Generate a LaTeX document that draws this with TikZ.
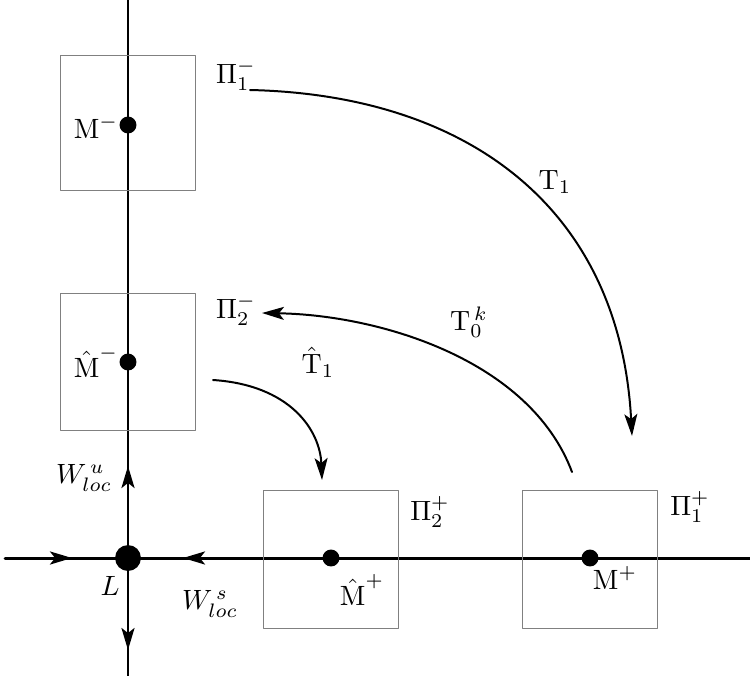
\documentclass[tikz,border=0pt]{standalone}
\usepackage{amsmath}
\usepackage{amssymb}
\usetikzlibrary{arrows.meta}
\begin{document}
\begin{tikzpicture}[line cap=round,line join=round,>={Stealth[length=22pt,width=13pt,inset=5pt]},x=1bp,y=-1bp,
  dot/.style={circle,fill=black,inner sep=0pt,minimum size=#1},
  box/.style={draw=gray,line width=0.9pt},
  lbl/.style={scale=2.8,inner sep=0pt}]
\useasboundingbox (0,0) rectangle (750,676);

% axes
\draw[line width=3pt] (128,0)-- (128,676);
\draw[line width=3pt] (5,558)-- (750,558);
\draw[->,line width=3pt] (35,558)-- (72,558);
\draw[->,line width=3pt] (220,558)-- (183,558);
\draw[->,line width=3pt] (128,500)-- (128,466);
\draw[->,line width=3pt] (128,615)-- (128,650);

% boxes
\draw[box] (60,55) rectangle (195,190);
\draw[box] (60,293) rectangle (195,430);
\draw[box] (263,490) rectangle (398,628);
\draw[box] (522,490) rectangle (657,628);

% points
\node[dot=17pt] (Mm) at (128,125) {};
\node[dot=17pt] (Mhm) at (128,362) {};
\node[dot=17pt] (Mhp) at (331,558) {};
\node[dot=17pt] (Mp) at (590,558) {};
\node[dot=26pt] (L) at (128,558) {};

\node[lbl] at (96,127) {M$^-$};
\node[lbl] at (96,362) {$\hat{\text{M}}^-$};
\node[lbl] at (362,590) {$\hat{\text{M}}^+$};
\node[lbl] at (615,578) {M$^+$};
\node[lbl] at (110,586) {$L$};
\node[lbl] (P1m) at (236,75) {$\Pi_1^-$};
\node[lbl] (P2m) at (236,310) {$\Pi_2^-$};
\node[lbl] (P2p) at (430,512) {$\Pi_2^+$};
\node[lbl] (P1p) at (690,507) {$\Pi_1^+$};
\node[lbl] at (555,182) {T$_1$};
\node[lbl] at (469,322) {T$_0^{\,k}$};
\node[lbl] at (318,362) {$\hat{\text{T}}_1$};
\node[lbl] at (84,478) {$W_{loc}^{\,u}$};
\node[lbl] at (210,604) {$W_{loc}^{\,s}$};

% maps
\coordinate (a1) at (250,90);
\coordinate (a2) at (632,436);
\coordinate (b1) at (572,472);
\coordinate (b2) at (262,313);
\coordinate (c1) at (213,380);
\coordinate (c2) at (322,480);
\draw[->,line width=2pt] (a1) .. controls (470,95) and (620,210) .. (a2);
\draw[->,line width=2pt] (b1) .. controls (530,360) and (380,315) .. (b2);
\draw[->,line width=2pt] (c1) .. controls (290,385) and (320,430) .. (c2);
\end{tikzpicture}
\end{document}
